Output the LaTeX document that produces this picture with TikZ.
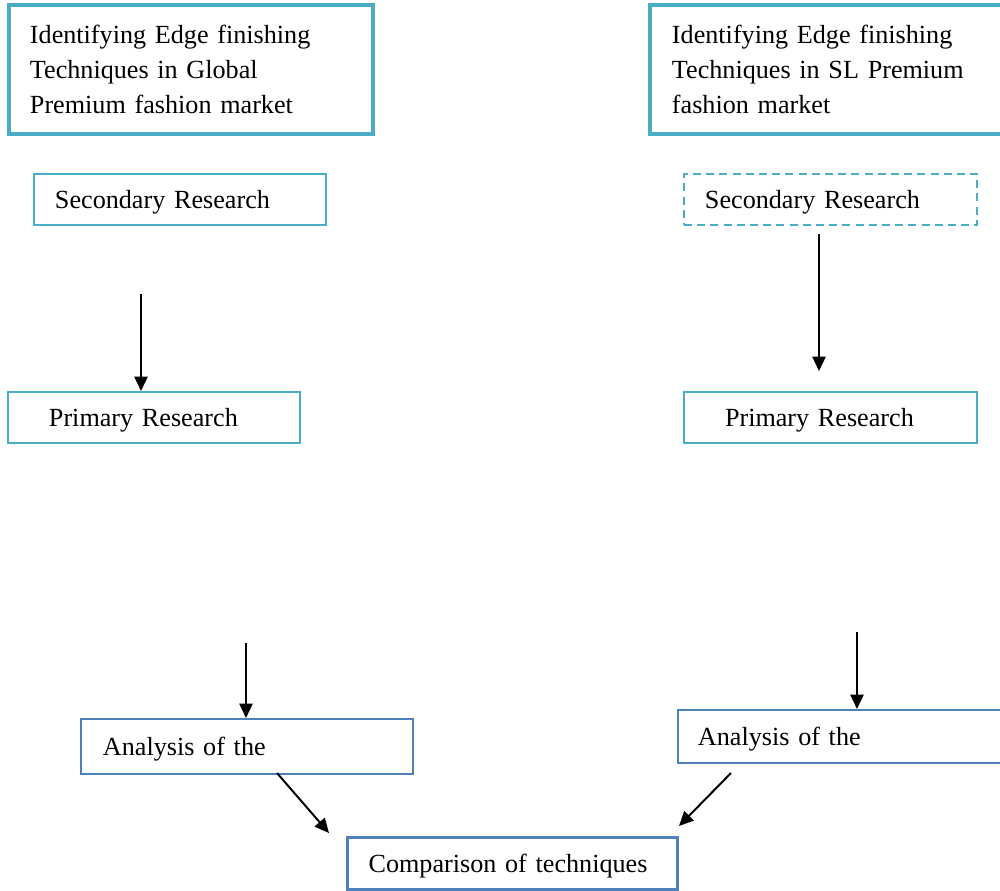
\documentclass[tikz,border=0pt]{standalone}
\usepackage{fontspec}
\setmainfont{Liberation Serif}
\usetikzlibrary{arrows.meta, positioning, calc}

\definecolor{aqua}{HTML}{4BACC6}
\definecolor{office}{HTML}{4F81BD}

\begin{document}
\begin{tikzpicture}[x=0.025cm, y=-0.025cm,
    box/.style={draw, align=left, anchor=north west, inner ysep=0pt,
        font=\fontsize{18.6}{24.6}\selectfont},
    aquabox/.style={box, draw=aqua, line width=1.4pt},
    bluebox/.style={box, draw=office, line width=1.4pt},
    oneline/.style={text depth=0pt},
    arr/.style={-{Triangle[length=3.6mm, width=3.3mm]}, line width=1.4pt}]
    \useasboundingbox (0,0) rectangle (1000,890);
    \clip (0,0) rectangle (1000,890);

    % top boxes
    \node[aquabox, line width=2.8pt, minimum height=3.225cm, text width=8.05cm, inner xsep=0.525cm] (global) at (7,3)
        {Identifying Edge finishing\\Techniques in Global\\Premium fashion market};
    \node[aquabox, line width=2.8pt, minimum height=3.225cm, text width=8.2cm, inner xsep=0.55cm] (slmkt) at (648,3)
        {Identifying Edge finishing\\Techniques in SL Premium\\fashion market};

    % secondary research
    \node[aquabox, oneline, minimum height=1.275cm, text width=6.25cm, inner xsep=0.525cm] (secL) at (33,173) {Secondary Research};
    \node[aquabox, oneline, dash pattern=on 0.2cm off 0.13cm, minimum height=1.275cm, text width=6.28cm, inner xsep=0.525cm] (secR) at (683,173) {Secondary Research};

    % primary research
    \node[aquabox, oneline, minimum height=1.275cm, text width=5.25cm, inner xsep=1.025cm] (priL) at (7,391) {Primary Research};
    \node[aquabox, oneline, minimum height=1.275cm, text width=5.28cm, inner xsep=1.025cm] (priR) at (683,391) {Primary Research};

    % analysis
    \node[bluebox, oneline, minimum height=1.375cm, text width=7.2cm, inner xsep=0.55cm] (anL) at (80,718) {Analysis of the};
    \node[bluebox, oneline, minimum height=1.325cm, text width=7.5cm, inner xsep=0.5cm] (anR) at (677,709) {Analysis of the};

    % comparison
    \node[bluebox, oneline, line width=2.2pt, minimum height=1.3cm, text width=7.2cm, inner xsep=0.525cm] (cmp) at (346,836) {Comparison of techniques};

    % free ends of the arrows
    \coordinate (l1) at (141,294);
    \coordinate (r1) at (819,234);
    \coordinate (r1e) at (819,371);
    \coordinate (l2) at (246,643);
    \coordinate (r2) at (857,632);
    \coordinate (dl) at (277,773);
    \coordinate (dle) at (329,833);
    \coordinate (dr) at (731,773);
    \coordinate (dre) at (679,826);

    \draw[arr] (l1) -- (l1 |- priL.north);
    \draw[arr] (r1) -- (r1e);
    \draw[arr] (l2) -- (l2 |- anL.north);
    \draw[arr] (r2) -- (r2 |- anR.north);
    \draw[arr] (dl) -- (dle);
    \draw[arr] (dr) -- (dre);
\end{tikzpicture}
\end{document}
